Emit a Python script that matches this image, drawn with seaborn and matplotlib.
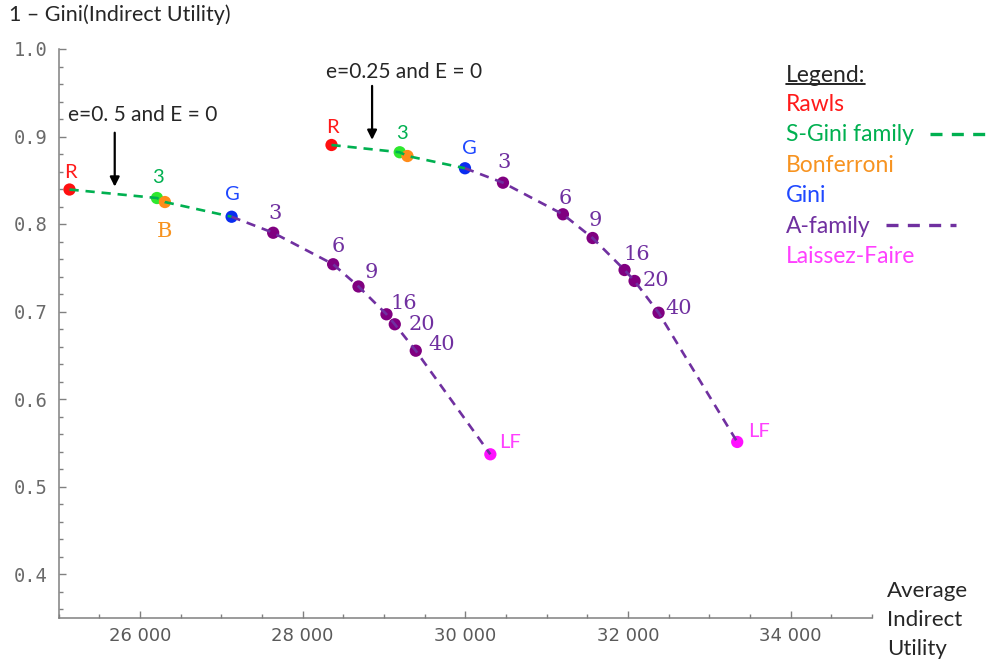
import numpy as np
import pandas as pd
import seaborn as sns
import matplotlib.pyplot as plt
from matplotlib.lines import Line2D
from matplotlib.ticker import MultipleLocator, FuncFormatter

# points along the two frontiers
point_kind = ["Rawls", "S-Gini", "Bonferroni", "Gini", "A", "A", "A", "A", "A", "A", "Laissez-Faire"]

avg_util_e05 = [25134, 26209, 26307, 27127, 27638, 28375, 28687, 29031, 29133, 29391, 30308]
gini_e05 = [0.8394, 0.8297, 0.8251, 0.8083, 0.790, 0.754, 0.7286, 0.6968, 0.6854, 0.6552, 0.5368]
labels_e05 = ["R", "3", "B", "G", "3", "6", "9", "16", "20", "40", "LF"]

avg_util_e025 = [28355, 29194, 29289, 29996, 30463, 31200, 31565, 31958, 32081, 32376, 33343]
gini_e025 = [0.8903, 0.882, 0.8777, 0.8637, 0.8472, 0.8111, 0.784, 0.7474, 0.7349, 0.6986, 0.5509]
labels_e025 = ["R", "3", "", "G", "3", "6", "9", "16", "20", "40", "LF"]

x_ticks = [26000, 28000, 30000, 32000, 34000]
y_ticks = [0.4, 0.5, 0.6, 0.7, 0.8, 0.9, 1.0]

legend_items = ["Rawls", "S-Gini family", "Bonferroni", "Gini", "A-family", "Laissez-Faire"]

# styles
dot_colors = {"Rawls": "#ff1010", "S-Gini": "#2ee82e", "Bonferroni": "#ff8c1a",
              "Gini": "#0a2cf0", "A": "#800080", "Laissez-Faire": "#ff10ff"}
label_colors = {"Rawls": "#ff1a1a", "S-Gini": "#00b050", "Bonferroni": "#f79320",
                "Gini": "#1f48ff", "A": "#7030a0", "Laissez-Faire": "#ff40ff"}
legend_colors = ["#ff1a1a", "#00b050", "#f79320", "#1f48ff", "#7030a0", "#ff40ff"]
green_line = "#00b050"
purple_line = "#7030a0"

# label offsets in pixels (dx right, dy down)
offs_e05 = [(1, -19), (1, -22), (0, 27), (1, -24), (2, -21), (5, -20), (13, -16),
            (17, -13), (27, -2), (26, -8), (20, -13)]
offs_e025 = [(1, -19), (2, -20), (0, 0), (4, -21), (1, -22), (2, -18), (3, -20),
             (12, -18), (21, -2), (20, -6), (22, -12)]

sns.set_style("ticks")
plt.rcParams["font.family"] = ["Lato", "DejaVu Sans"]

W, H = 995, 664
fig = plt.figure(figsize=(W / 100, H / 100), dpi=100)
ax = fig.add_axes([58.6 / W, 1 - 617.75 / H, (872 - 58.6) / W, 568.75 / H])

dash = (0, (3.5, 2.6))
for xs, ys, labs, offs in [(avg_util_e05, gini_e05, labels_e05, offs_e05),
                           (avg_util_e025, gini_e025, labels_e025, offs_e025)]:
    df = pd.DataFrame({"x": xs, "y": ys, "kind": point_kind, "label": labs})
    sns.scatterplot(data=df, x="x", y="y", hue="kind", palette=dot_colors,
                    s=78, edgecolor="none", legend=False, ax=ax, zorder=3)
    green = df.iloc[:4]
    purple = df.iloc[3:]
    ax.plot(green.x, green.y, color=green_line, lw=1.9, ls=dash, zorder=4)
    ax.plot(purple.x, purple.y, color=purple_line, lw=1.9, ls=dash, zorder=4)
    for (_, r), (dx, dy) in zip(df.iterrows(), offs):
        if not r.label:
            continue
        serif = r.kind in ("A", "Bonferroni")
        ax.annotate(r.label, (r.x, r.y), xytext=(dx * 0.72, -dy * 0.72),
                    textcoords="offset points", ha="center", va="center_baseline",
                    color=label_colors[r.kind], fontsize=15 if serif else 14.5,
                    family="DejaVu Serif" if serif else ["Lato", "DejaVu Sans"],
                    zorder=5)

# arrows + notes
ax.annotate("", xy=(25690, 0.8395), xytext=(25690, 0.9075),
            arrowprops=dict(arrowstyle="-|>", color="black", lw=1.6, mutation_scale=14))
ax.text(26037, 0.9246, "e=0. 5 and E = 0", ha="center", va="center", fontsize=15)
ax.annotate("", xy=(28854, 0.893), xytext=(28854, 0.961),
            arrowprops=dict(arrowstyle="-|>", color="black", lw=1.6, mutation_scale=14))
ax.text(29247, 0.974, "e=0.25 and E = 0", ha="center", va="center", fontsize=15)

# axes
ax.set_xlim(25000, 35000)
ax.set_ylim(0.35, 1.0)
ax.set_xticks(x_ticks)
ax.set_yticks(y_ticks)
ax.xaxis.set_minor_locator(MultipleLocator(500))
ax.yaxis.set_minor_locator(MultipleLocator(0.02))
ax.xaxis.set_major_formatter(FuncFormatter(lambda v, p: f"{int(v):,}".replace(",", " ")))
ax.yaxis.set_major_formatter(FuncFormatter(lambda v, p: f"{v:.1f}"))
ax.set_xlabel("")
ax.set_ylabel("")
sns.despine(ax=ax)
for s in ("left", "bottom"):
    ax.spines[s].set_color("#808080")
    ax.spines[s].set_linewidth(1.1)
ax.tick_params(which="both", direction="in", color="#808080", width=1)
ax.tick_params(which="major", length=5)
ax.tick_params(which="minor", length=3)
ax.tick_params(axis="x", labelsize=13, labelcolor="#5a5a5a", pad=7)
ax.tick_params(axis="y", labelsize=13.5, labelcolor="#6a6a6a", pad=8)
for t in ax.get_yticklabels():
    t.set_family("DejaVu Sans Mono")
for t in ax.get_xticklabels():
    t.set_family("DejaVu Sans")

fig.text(9 / W, 1 - 15 / H, "1 \u2013 Gini(Indirect Utility)", ha="left", va="center",
         fontsize=15.5)
fig.text(886.7 / W, 1 - 620 / H, "Average\nIndirect\nUtility", ha="left", va="center",
         fontsize=16, linespacing=1.55)

# hand-made legend block
lx = 785.7 / W
title = fig.text(lx, 1 - 75 / H, "Legend:", ha="left", va="center", fontsize=16.5)
legend_texts = []
for i, (name, col) in enumerate(zip(legend_items, legend_colors)):
    t = fig.text(lx, 1 - (104.5 + 30.4 * i) / H, name, ha="left", va="center",
                 fontsize=16.5, color=col)
    legend_texts.append(t)

fig.canvas.draw()
r = fig.canvas.get_renderer()
bb = title.get_window_extent(r)
fig.add_artist(Line2D([bb.x0 / W, bb.x1 / W], [(H - 84) / H] * 2, color="black", lw=1.2))
for idx, col in [(1, green_line), (4, purple_line)]:
    bb = legend_texts[idx].get_window_extent(r)
    x0 = bb.x1 + 16
    yc = (bb.y0 + bb.y1) / 2 + 1
    fig.add_artist(Line2D([x0 / W, (x0 + 70) / W], [yc / H] * 2, color=col, lw=2.4,
                          ls=(0, (3.6, 2.8))))

fig.savefig("out.png", dpi=100)
